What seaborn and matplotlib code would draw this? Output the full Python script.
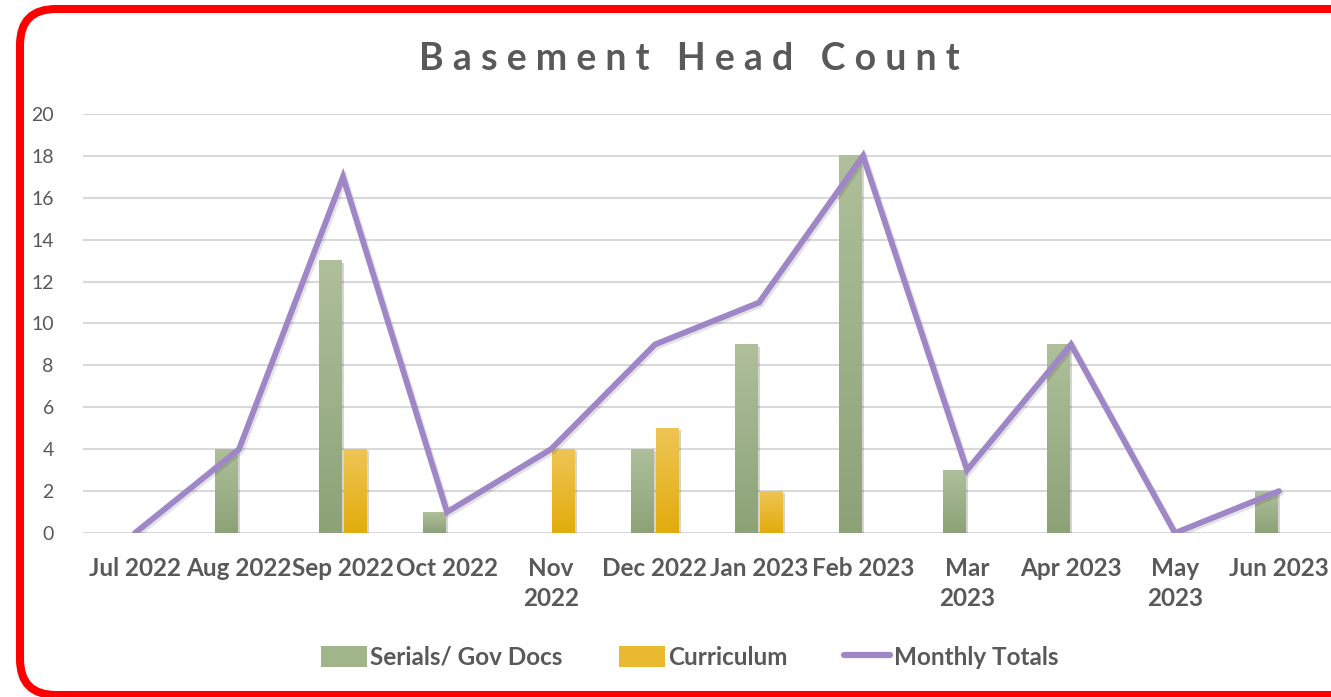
import numpy as np
import pandas as pd
import seaborn as sns
import matplotlib.pyplot as plt
import matplotlib.patheffects as pe
from matplotlib.patches import FancyBboxPatch, Patch
from matplotlib.lines import Line2D
from matplotlib.colors import LinearSegmentedColormap
from matplotlib.transforms import IdentityTransform

months = ["Jul 2022", "Aug 2022", "Sep 2022", "Oct 2022", "Nov 2022", "Dec 2022",
          "Jan 2023", "Feb 2023", "Mar 2023", "Apr 2023", "May 2023", "Jun 2023"]
tick_labels = ["Jul 2022", "Aug 2022", "Sep 2022", "Oct 2022", "Nov\n2022", "Dec 2022",
               "Jan 2023", "Feb 2023", "Mar\n2023", "Apr 2023", "May\n2023", "Jun 2023"]
serials = [0, 4, 13, 1, 0, 4, 9, 18, 3, 9, 0, 2]
curriculum = [0, 0, 4, 0, 4, 5, 2, 0, 0, 0, 0, 0]
totals = [0, 4, 17, 1, 4, 9, 11, 18, 3, 9, 0, 2]

series_names = ["Serials/ Gov Docs", "Curriculum"]
green_top, green_bot = "#AEBF9A", "#8DA277"
gold_top, gold_bot = "#EEC554", "#E2AC0C"
purple = "#9E86C7"
text_grey = "#595959"

sns.set_theme(style="white")
plt.rcParams['font.family'] = ['Lato', 'DejaVu Sans']

df = pd.DataFrame({
    "month": months * 2,
    "value": serials + curriculum,
    "series": [series_names[0]] * len(months) + [series_names[1]] * len(months),
})

fig = plt.figure(figsize=(13.31, 6.97), dpi=100)
ax = fig.add_axes([83 / 1331, 1 - 533 / 697, 1 - 83 / 1331, (533 - 114) / 697])

sns.barplot(data=df, x="month", y="value", hue="series", order=months,
            palette=[green_bot, gold_bot], width=0.48, gap=0.1, ax=ax,
            legend=False, zorder=2)

# gradient fill over each bar
grad = np.linspace(1, 0, 64).reshape(-1, 1)
cmaps = [LinearSegmentedColormap.from_list("g", [green_bot, green_top]),
         LinearSegmentedColormap.from_list("y", [gold_bot, gold_top])]
for i, bar in enumerate(ax.patches):
    h = bar.get_height()
    if h <= 0:
        bar.set_visible(False)
        continue
    x0 = bar.get_x()
    w = bar.get_width()
    cm = cmaps[0] if i < len(months) else cmaps[1]
    bar.set_path_effects([pe.SimplePatchShadow(offset=(1.5, -1.5), alpha=0.2)])
    ax.imshow(grad, cmap=cm, vmin=0, vmax=1, aspect="auto",
              extent=(x0, x0 + w, 0, h), zorder=2.5, interpolation="bicubic")

sns.lineplot(x=np.arange(len(months)), y=totals, color=purple, linewidth=4.2,
             ax=ax, zorder=4,
             path_effects=[pe.SimpleLineShadow(offset=(1.5, -1.5), alpha=0.12), pe.Normal()])
for ln in ax.lines:
    ln.set_solid_capstyle("round")
    ln.set_solid_joinstyle("miter")

ax.set_xlim(-0.5, len(months) - 0.5)
ax.set_ylim(0, 20)
ax.set_yticks(range(0, 21, 2))
ax.set_xticks(range(len(months)))
ax.set_xticklabels(tick_labels, fontsize=17.5, fontweight="bold", color=text_grey,
                   linespacing=1.4, va="top")
ax.tick_params(axis="y", labelsize=14, labelcolor=text_grey, length=0, pad=21)
ax.tick_params(axis="x", length=0, pad=17)
ax.yaxis.grid(True, color="#D9D9D9", linewidth=1.5, zorder=0)
ax.set_axisbelow(True)
ax.set_xlabel("")
ax.set_ylabel("")
for s in ax.spines.values():
    s.set_visible(False)

fig.text(0.518, 0.916, " ".join("Basement Head Count"),
         ha="center", va="center", fontsize=27, fontweight="bold", color=text_grey)

handles = [Patch(facecolor="#A1B58B", edgecolor="none"),
           Patch(facecolor="#E9BA30", edgecolor="none"),
           Line2D([0], [0], color=purple, linewidth=4.5, solid_capstyle="round")]
fig.legend(handles, ["Serials/ Gov Docs", "Curriculum", "Monthly Totals"],
           loc="center", bbox_to_anchor=(0.518, 0.057), ncol=3, frameon=False,
           prop={"size": 17.5, "weight": "bold"}, labelcolor=text_grey,
           handlelength=1.9, handleheight=1.0, handletextpad=0.15, columnspacing=2.3)

border = FancyBboxPatch((20, 2), 1400, 686, boxstyle="round,pad=0,rounding_size=36",
                        transform=IdentityTransform(), fill=False, edgecolor="#FF0000",
                        linewidth=5.8, zorder=10)
fig.patches.append(border)

fig.savefig("out.png", dpi=100)
